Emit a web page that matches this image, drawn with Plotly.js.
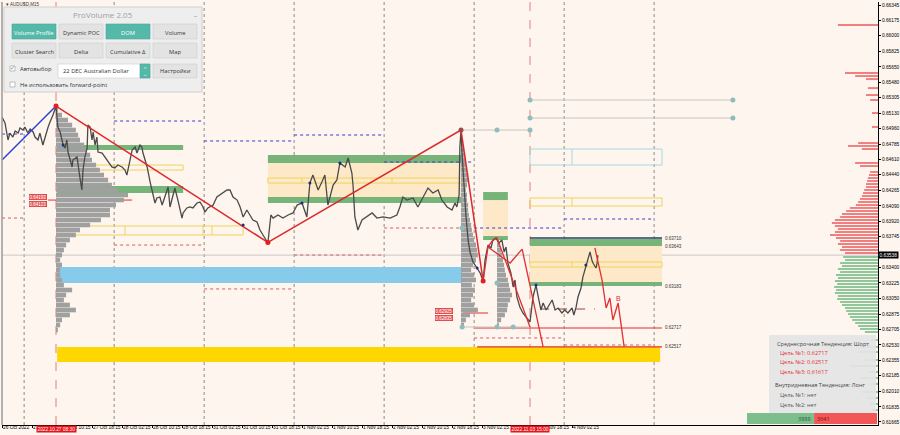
<!DOCTYPE html>
<html><head><meta charset="utf-8">
<script src="https://cdn.plot.ly/plotly-3.0.1.min.js"></script>
<style>html,body{margin:0;padding:0;background:#fdf5ee;}#chart{width:900px;height:435px;}</style>
</head><body><div id="chart"></div>
<script>
// ---------------- axes ----------------
const timeTickHours = [0,8,16,24,32,40,48,56,64,72,80,88,96,104,112,120,128,136,144,152];
const timeTickLabels = ['26 Oct 2022','27 Oct 02:15','27 Oct 10:15','27 Oct 18:15','28 Oct 02:15','28 Oct 10:15','28 Oct 18:15','31 Oct 02:15','31 Oct 10:15','31 Oct 18:15','1 Nov 02:15','1 Nov 10:15','1 Nov 18:15','2 Nov 02:15','2 Nov 10:15','2 Nov 18:15','3 Nov 02:15','3 Nov 10:15','3 Nov 18:15','4 Nov 02:15'];
const priceTickValues = [0.66345,0.66175,0.66000,0.65825,0.65650,0.65480,0.65305,0.65130,0.64960,0.64785,0.64610,0.64440,0.64265,0.64090,0.63920,0.63745,0.63400,0.63225,0.63050,0.62875,0.62705,0.62530,0.62355,0.62185,0.62010,0.61835,0.61665];
const xRange = [0, 233.6];
const yRange = [0.61631, 0.66379];
const bidPrice = 0.63538;

// ---------------- price (AUDUSD M15) ----------------
const priceHours = [0,0.8,1.6,2.1,2.9,3.5,4.3,4.8,5.6,6.1,6.9,7.5,8.3,8.8,9.6,10.1,10.9,11.5,12.3,12.8,13.6,14.4,
 14.7,14.9,15.5,16.3,16.8,17.3,17.6,18.7,18.9,20.0,20.8,21.3,21.6,22.1,22.7,22.9,23.5,24.0,24.3,24.8,25.3,25.6,26.7,27.5,28.3,29.3,30.1,30.9,32.0,32.8,33.3,33.6,34.1,34.7,35.5,36.0,36.8,37.3,37.6,38.7,39.5,40.3,40.8,41.3,42.1,42.7,43.5,44.0,44.3,44.8,45.3,46.1,46.9,48.0,48.3,49.3,50.1,50.9,52.0,52.8,53.6,54.1,54.9,56.3,57.3,58.1,58.9,60.0,60.8,61.6,62.7,63.5,64.3,65.3,66.1,66.9,68.0,68.8,69.6,70.7,70.9,
 71.7,72.3,73.6,74.9,76.3,77.6,78.7,80.0,81.3,82.1,82.9,84.3,85.3,86.1,86.9,88.3,89.3,90.1,91.5,92.3,93.3,93.6,94.1,94.9,96.0,97.3,98.7,100.0,101.6,103.5,105.3,106.1,106.9,108.0,109.6,110.9,112.3,113.6,114.9,116.3,117.3,118.7,120.0,120.8,121.3,121.9,122.1,122.4,122.7,123.2,123.7,124.3,124.8,125.6,126.7,127.5,128.3,
 128.8,129.6,130.4,130.9,131.7,132.5,133.3,133.9,134.4,134.9,135.7,136.3,136.8,137.3,138.1,138.9,140.0,140.8,141.6,142.4,143.0,143.7,144.3,145.1,145.9,146.7,147.5,148.3,149.3,150.1,150.9,152.0,152.5,153.1,153.6,154.4,154.9,155.7,156.3,156.8,157.3,157.6,158.4,158.7,158.9];
const priceClose = [0.65088,0.65021,0.64830,0.64908,0.64863,0.64931,0.64908,0.64964,0.64942,0.64976,0.64908,0.64953,0.64920,0.64863,0.64830,0.64908,0.64774,0.64875,0.64976,0.65032,0.65110,0.65211,
 0.65110,0.64976,0.64920,0.64774,0.64740,0.64830,0.64695,0.64527,0.64605,0.64639,0.64403,0.64269,0.64493,0.64639,0.64740,0.64998,0.64976,0.64830,0.64920,0.64774,0.64863,0.64695,0.64684,0.64639,0.64583,0.64527,0.64516,0.64549,0.64527,0.64493,0.64437,0.64493,0.64605,0.64718,0.64751,0.64684,0.64774,0.64751,0.64684,0.64527,0.64358,0.64213,0.64123,0.64179,0.64190,0.64100,0.64190,0.64269,0.64302,0.64078,0.64156,0.64291,0.64156,0.63954,0.64011,0.64067,0.64078,0.64067,0.64123,0.64134,0.64078,0.64022,0.64067,0.64100,0.64190,0.64213,0.64235,0.64269,0.64269,0.64190,0.64156,0.64078,0.63966,0.64044,0.63988,0.63932,0.63910,0.63820,0.63764,0.63685,0.63674,
 0.63988,0.63954,0.63988,0.63954,0.63988,0.64011,0.64100,0.64123,0.63966,0.64347,0.64437,0.64269,0.64358,0.64437,0.64100,0.64325,0.64381,0.64572,0.64527,0.64628,0.64459,0.64325,0.63966,0.63820,0.63932,0.63966,0.64011,0.63954,0.63966,0.63954,0.63988,0.64078,0.64190,0.64156,0.64179,0.64078,0.64190,0.64291,0.64235,0.64269,0.64156,0.64078,0.64044,0.64123,0.64078,0.64213,0.64751,0.64942,0.64661,0.64269,0.63988,0.63707,0.63573,0.63461,0.63393,0.63337,0.63247,
 0.63483,0.63651,0.63618,0.63707,0.63730,0.63674,0.63707,0.63573,0.63629,0.63449,0.63337,0.63180,0.63259,0.63068,0.62956,0.62888,0.62832,0.62787,0.63068,0.63202,0.63068,0.62922,0.63000,0.62922,0.62978,0.63034,0.62922,0.62944,0.62888,0.62922,0.62888,0.62944,0.62866,0.62956,0.63068,0.63169,0.63292,0.63405,0.63517,0.63573,0.63483,0.63449,0.63393,0.63449,0.63538];

// ---------------- zigzag & forecast ----------------
const zigBlueHours = [0, 14.4];
const zigBluePrice = [0.64605, 0.65211];
const zigRedHours = [14.4, 70.9, 122.4, 128.3];
const zigRedPrice = [0.65211, 0.63680, 0.64942, 0.63247];
const fcAHours = [128.3, 129.6, 130.7, 132.0, 140.8];
const fcAPrice = [0.63247, 0.63629, 0.63696, 0.63730, 0.62731];
const fcBHours = [129.6, 135.5, 138.7, 144.3];
const fcBPrice = [0.63629, 0.63449, 0.63606, 0.62507];
const fcCHours = [158.1, 160.0, 161.1, 162.1, 162.9, 164.3, 165.9];
const fcCPrice = [0.63618, 0.63259, 0.62944, 0.63056, 0.62810, 0.63000, 0.62507];
const redDotHours = [14.4, 70.9, 128.3];
const redDotPrice = [0.65211, 0.63680, 0.63247];
const swingDotHours = [16.3, 64.3, 80.0, 82.1, 90.1, 126.7, 142.4, 155.7];
const swingDotPrice = [0.64774, 0.63876, 0.64123, 0.64347, 0.64572, 0.63393, 0.63202, 0.63427];

// ---------------- zones [h0,h1,pLow,pHigh] ----------------
const greenBands = [[14.7,48.3,0.64718,0.64774],[14.7,48.3,0.64235,0.64314],[70.9,122.7,0.64572,0.64661],[70.9,122.7,0.64123,0.64190],
 [128.3,134.9,0.64156,0.64246],[128.3,134.9,0.63707,0.63752],[140.8,176.0,0.63640,0.63719],[140.8,176.0,0.63191,0.63236]];
const orangeZones = [[70.9,122.7,0.64190,0.64572],[128.3,134.9,0.63752,0.64156],[140.8,176.0,0.63236,0.63640]];
const yellowBoxes = [[14.7,48.3,0.64493,0.64549],[14.7,64.3,0.63764,0.63865],[70.9,122.7,0.64347,0.64403],[140.8,176.0,0.63404,0.63461],[140.8,176.0,0.64089,0.64179]];
const yellowSplits = [[], [32.8,53.6,56.0], [80.0,104.0], [152.0], [152.0]];
const cyanBoxes = [[140.8,176.0,0.64549,0.64729]];
const cyanSplits = [[152.0]];
const blueBand = [14.7,122.7,0.63225,0.63404];
const goldBand = [14.7,175.5,0.62338,0.62507];
const navyLevel = [140.8,176.0,0.63730];
const targetLevels = [[126.1,176.0,0.62720],[126.7,176.0,0.62507]];
const targetLabels = ['0.63710','0.63643','0.63183','0.62717','0.62517'];
const targetLabelPrice = [0.63719,0.63640,0.63191,0.62720,0.62507];

// daily high / low (dotted)
const dayStart = [0,29.9,53.9,77.9,101.9,125.9,149.9];
const dayEnd   = [5.9,53.9,77.9,101.9,125.9,149.9,173.9];
const dayHigh  = [0.64897,0.65043,0.64819,0.64886,0.64583,0.63842,0.63943];
const dayLow   = [0.63954,0.63651,0.63158,0.63539,0.63842,0.62608,0.62529];
const dayGrid  = [5.9,29.9,53.9,77.9,101.9,125.9,149.9,173.9];
const timeMarkers = [14.4, 140.8];
const timeMarkerLabels = ['2022.10.27 08:30','2022.11.03 15:00'];

// grey anchor lines with dots [h0,h1,price]
const anchorLines = [[122.4,140.8,0.64942],[140.8,194.9,0.65279],[140.8,194.9,0.65077],[122.7,140.8,0.62731]];
const anchorDotHours = [132.0,140.8,140.8,194.9,140.8,194.9,122.7,132.0,136.3,122.7,132.0];
const anchorDotPrice = [0.64942,0.64942,0.65279,0.65279,0.65077,0.65077,0.62731,0.62731,0.62731,0.63842,0.63225];

// ---------------- volume profiles ----------------
const profLeftPrice = [0.65167,0.65110,0.65054,0.64998,0.64942,0.64886,0.64830,0.64774,0.64718,0.64661,0.64605,0.64549,0.64493,0.64437,0.64381,0.64325,0.64269,0.64213,0.64156,0.64100,0.64044,0.63988,0.63932,0.63876,0.63820,0.63764,0.63707,0.63651,0.63595,0.63539,0.63483,0.63427,0.63371,0.63315,0.63259,0.63202,0.63146,0.63090,0.63034,0.62978,0.62922,0.62866,0.62810,0.62753,0.62697];
const profLeftVol = [0.5,1.6,3.2,4.3,5.3,5.9,6.4,7.5,8.0,9.1,9.6,10.7,11.7,12.8,13.9,14.9,16.5,19.2,18.1,16.0,14.4,14.4,12.0,9.1,6.4,5.3,3.7,2.7,2.1,1.6,1.1,1.6,1.1,1.1,1.6,2.1,4.3,2.7,2.1,3.7,5.3,3.7,1.6,1.1,0.5];
const profLeftStart = 14.4;
const profMidPrice = [0.64830,0.64774,0.64718,0.64661,0.64605,0.64549,0.64493,0.64437,0.64381,0.64325,0.64269,0.64213,0.64156,0.64100,0.64044,0.63988,0.63932,0.63876,0.63820,0.63764,0.63707,0.63651,0.63595,0.63539,0.63483,0.63427,0.63371,0.63315,0.63259,0.63202,0.63146,0.63090,0.63034,0.62978,0.62922,0.62866,0.62810,0.62753];
const profMidVol = [0.5,0.5,0.8,1.1,1.3,1.3,1.6,1.9,1.9,1.6,1.3,1.6,1.6,1.9,1.9,2.1,2.4,2.7,2.9,3.2,3.5,4.0,4.3,4.5,4.0,3.2,2.7,3.5,4.0,2.9,3.7,3.2,2.7,3.5,4.5,2.4,1.3,0.8];
const profMidStart = 122.4;
const profRightPrice = [0.63707,0.63651,0.63595,0.63539,0.63483,0.63427,0.63371,0.63315,0.63259,0.63202,0.63146,0.63090,0.63034,0.62978,0.62922,0.62866,0.62810,0.62753];
const profRightVol = [0.5,0.8,1.1,1.3,1.6,1.9,2.1,2.4,2.9,3.2,3.5,4.0,3.5,2.9,2.7,2.1,1.1,0.5];
const profRightStart = 132.0;
const pocLines = [[12.3,34.7,0.64156],[122.9,129.6,0.62888]];
const pocLabels = ['0.64193','0.64123','0.62925','0.62835'];
const pocLabelHours = [9.6,9.6,117.9,117.9];
const pocLabelPrice = [0.64190,0.64112,0.62911,0.62832];

// ---------------- DOM (right histogram) ----------------
const domAskPrice = [0.66120,0.65582,0.65548,0.65514,0.65413,0.65335,0.65279,0.65133,0.64976,0.64796,0.64763,0.64729,0.64572,0.64538,0.64471,0.64437,0.64403,0.64370,0.64336,0.64302,0.64269,0.64235,0.64201,0.64168,0.64134,0.64100,0.64067,0.64033,0.63999,0.63966,0.63932,0.63898,0.63865,0.63831,0.63797,0.63764,0.63730,0.63696,0.63663,0.63629,0.63595,0.63562];
const domAskVol = [10.7,8.8,6.1,3.2,2.7,3.2,2.1,1.6,1.6,5.3,8.0,4.3,6.1,4.8,2.1,2.4,2.7,2.9,3.2,3.2,3.7,4.0,4.3,4.8,5.3,5.9,7.5,8.5,9.6,10.1,11.5,12.3,11.5,10.7,11.5,12.8,11.2,10.1,10.7,9.6,10.1,8.8];
const domBidPrice = [0.63517,0.63483,0.63449,0.63416,0.63382,0.63348,0.63315,0.63281,0.63247,0.63214,0.63180,0.63146,0.63113,0.63079,0.63045,0.63012,0.62978,0.62944,0.62911,0.62877,0.62843,0.62810,0.62776,0.62742,0.62709,0.62675,0.62585,0.62507,0.62450,0.62361,0.62294,0.62226,0.62159,0.62092,0.62002,0.61934,0.61867,0.61799];
const domBidVol = [9.3,8.8,10.1,9.6,10.7,10.1,11.2,10.7,11.5,10.9,11.7,11.2,11.5,10.7,10.9,10.1,9.6,8.8,8.5,8.0,7.5,6.9,6.1,5.3,4.8,3.5,2.1,4.8,5.3,3.5,7.5,2.7,4.8,2.1,4.3,3.2,2.1,1.6];
const domEdge = 233.6;
const domTotals = [3888, 3641];

// ---------------- info panel texts ----------------
const infoLines = ['Среднесрочная Тенденция: Шорт','Цель №1: 0.62717','Цель №2: 0.62517','Цель №3: 0.61617','Внутридневная Тенденция: Лонг','Цель №1: нет','Цель №2: нет'];
const infoColors = ['#444','#e03030','#e03030','#e03030','#444','#555','#555'];

// =====================================================================
const shapes = [];
const ann = [];
const FONT = 'Liberation Sans, Arial, sans-serif';
const UIF = 'Open Sans, Noto Sans, sans-serif';
// paper helpers for UI overlays (not data)
const PX = p => (p - 2) / 876;
const PY = p => (425 - p) / 423;

function drect(z, fill, line, lw, layer) {
  shapes.push({type:'rect', xref:'x', yref:'y', x0:z[0], x1:z[1], y0:z[2], y1:z[3],
    fillcolor: fill || 'rgba(0,0,0,0)', line:{color: line || 'rgba(0,0,0,0)', width: lw || 0}, layer: layer || 'below'});
}
function dline(x0,x1,y0,y1,color,w,dash,layer, yref){
  shapes.push({type:'line', xref:'x', yref: yref||'y', x0, x1, y0, y1, line:{color, width:w, dash: dash||'solid'}, layer: layer||'below'});
}
function prect(x0,y0,x1,y1,fill,line,lw){
  shapes.push({type:'rect', xref:'paper', yref:'paper', x0:PX(x0), x1:PX(x1), y0:PY(y1), y1:PY(y0),
    fillcolor: fill, line:{color: line||'rgba(0,0,0,0)', width: lw||0}, layer:'above'});
}
function ptext(text, x, y, size, color, xanchor, extra){
  ann.push(Object.assign({text, xref:'paper', yref:'paper', x:PX(x), y:PY(y), showarrow:false,
    xanchor: xanchor||'left', yanchor:'middle', font:{family:UIF, size, color}}, extra||{}));
}

// window border on the left
shapes.push({type:'line', xref:'paper', yref:'paper', x0:0, x1:0, y0:0, y1:1, line:{color:'#9a9a9a', width:1.5}, layer:'above'});
// grid
dayGrid.forEach(h => dline(h,h,0,1,'#8a8a8a',1,'dot','below','paper'));
timeMarkers.forEach(h => dline(h,h,0,1,'#e08080',1,'dash','below','paper'));
// bid line
dline(xRange[0], xRange[1], bidPrice, bidPrice, '#c8c8c8', 1, 'solid', 'below');
// zones
drect(blueBand, '#86cbe9');
drect(goldBand, '#ffd700');
orangeZones.forEach(z => drect(z, '#fde9c8'));
greenBands.forEach(z => drect(z, '#76b47a'));
yellowBoxes.forEach((z,i) => {
  drect(z, null, '#f0d35a', 1);
  yellowSplits[i].forEach(h => dline(h,h,z[2],z[3],'#f0d35a',1));
});
cyanBoxes.forEach((z,i) => {
  drect(z, null, '#a9d8e0', 1);
  cyanSplits[i].forEach(h => dline(h,h,z[2],z[3],'#a9d8e0',1));
});
dline(navyLevel[0], navyLevel[1], navyLevel[2], navyLevel[2], '#2b3d6b', 1.5);
targetLevels.forEach(t => dline(t[0], t[1], t[2], t[2], '#e03030', 1.2));
// daily hi/lo
dayStart.forEach((s,i) => {
  dline(s, dayEnd[i], dayHigh[i], dayHigh[i], '#3a3acf', 1, 'dot');
  dline(s, dayEnd[i], dayLow[i], dayLow[i], '#d06060', 1, 'dot');
});
anchorLines.forEach(a => dline(a[0], a[1], a[2], a[2], '#c9c4c0', 1));
pocLines.forEach(a => dline(a[0], a[1], a[2], a[2], '#e03030', 1));
dline(143.5, 158.1, 0.62933, 0.62933, '#a0443a', 1, 'dash');

// traces
const traces = [];
function profile(prices, vols, start){
  traces.push({type:'bar', orientation:'h', y:prices, x:vols, base:start, width:0.00052,
    marker:{color:'#a0a0a0', line:{width:0}}, hoverinfo:'skip', showlegend:false});
}
profile(profLeftPrice, profLeftVol, profLeftStart);
profile(profMidPrice, profMidVol, profMidStart);
profile(profRightPrice, profRightVol, profRightStart);
traces.push({type:'bar', orientation:'h', y:domAskPrice, x:domAskVol, base:domAskVol.map(v => domEdge - v), width:0.00022,
  marker:{color:'#f08080', line:{width:0}}, hoverinfo:'skip', showlegend:false});
traces.push({type:'bar', orientation:'h', y:domBidPrice, x:domBidVol, base:domBidVol.map(v => domEdge - v), width:0.00022,
  marker:{color:'#8fc79a', line:{width:0}}, hoverinfo:'skip', showlegend:false});
traces.push({type:'scatter', mode:'lines', x:priceHours, y:priceClose, line:{color:'#4a4a4a', width:1.3}, hoverinfo:'skip', showlegend:false});
traces.push({type:'scatter', mode:'lines', x:zigBlueHours, y:zigBluePrice, line:{color:'#2a3fcf', width:1.5}, showlegend:false});
traces.push({type:'scatter', mode:'lines', x:zigRedHours, y:zigRedPrice, line:{color:'#dd2a2a', width:1.5}, showlegend:false});
[[fcAHours,fcAPrice],[fcBHours,fcBPrice],[fcCHours,fcCPrice]].forEach(f =>
  traces.push({type:'scatter', mode:'lines', x:f[0], y:f[1], line:{color:'#e03030', width:1.3}, showlegend:false}));
traces.push({type:'scatter', mode:'markers', x:anchorDotHours, y:anchorDotPrice, marker:{color:'#8fbdbd', size:5}, showlegend:false});
traces.push({type:'scatter', mode:'markers', x:redDotHours, y:redDotPrice, marker:{color:'#e02020', size:5}, showlegend:false});
traces.push({type:'scatter', mode:'markers', x:[122.4], y:[0.64942], marker:{color:'#a04848', size:5}, showlegend:false});
traces.push({type:'scatter', mode:'markers', x:swingDotHours, y:swingDotPrice, marker:{color:'#1c2a8a', size:3}, showlegend:false});

// data annotations
targetLabels.forEach((t,i) => ann.push({text:t, x:176.2, y:targetLabelPrice[i], xref:'x', yref:'y', showarrow:false, xanchor:'left', yanchor:'middle', font:{family:FONT, size:4.5, color:'#333'}}));
pocLabels.forEach((t,i) => ann.push({text:t, x:pocLabelHours[i], y:pocLabelPrice[i], xref:'x', yref:'y', showarrow:false, xanchor:'center', yanchor:'middle',
  bgcolor:'#e85a5a', bordercolor:'#d02020', borderwidth:0.5, borderpad:0, font:{family:FONT, size:4.5, color:'#fff'}}));
ann.push({text:'B', x:164.3, y:0.63050, xref:'x', yref:'y', showarrow:false, font:{family:FONT, size:7, color:'#e03030'}});
timeMarkers.forEach((h,i) => ann.push({text:timeMarkerLabels[i], x:h, y:-0.001, xref:'x', yref:'paper', yanchor:'top', xanchor:'center', showarrow:false,
  bgcolor:'#e8141c', borderpad:0.5, font:{family:FONT, size:4.8, color:'#fff'}}));
ann.push({text:bidPrice.toFixed(5), x:1.0, y:bidPrice, xref:'paper', yref:'y', xanchor:'left', yanchor:'middle', showarrow:false,
  bgcolor:'#000', borderpad:0.5, font:{family:FONT, size:4.8, color:'#fff'}});
ann.push({text:'▾ AUDUSD,M15', x:PX(4), y:PY(4), xref:'paper', yref:'paper', xanchor:'left', yanchor:'middle', showarrow:false, font:{family:FONT, size:4.5, color:'#333'}});

// ---------------- UI: ProVolume panel ----------------
prect(4,7,202,92,'#eeeeee','#cfcfcf',1);
ptext('ProVolume 2.05', 103, 14, 8, '#a0a0a0', 'center');
ptext('_', 195, 13, 7, '#888', 'center');
const btnLabels = ['Volume Profile','Dynamic POC','DOM','Volume','Cluster Search','Delta','Cumulative Δ','Map'];
const btnOn = [true,false,true,false,false,false,false,false];
const btnX = [12,59,106,153];
btnLabels.forEach((b,i) => {
  const x0 = btnX[i%4], y0 = i < 4 ? 24 : 43;
  prect(x0, y0, x0+44, y0+15, btnOn[i] ? '#55b9aa' : '#e3e3e3', btnOn[i] ? '#4aa596' : '#cccccc', 0.6);
  ptext(b, x0+22, y0+8.5, 5.8, btnOn[i] ? '#ffffff' : '#333333', 'center');
});
prect(10,66,15,71,'#ffffff','#9a9a9a',0.6);
ptext('✓', 12.5, 68, 6, '#3aa090', 'center');
ptext('Автовыбор', 18, 69, 5.8, '#333');
prect(58,64,150,78,'#ffffff','#cfcfcf',0.6);
prect(140,64,150,78,'#55b9aa','#4aa596',0.6);
ptext('⌃', 145, 69, 4.5, '#fff', 'center');
ptext('⌄', 145, 74, 4.5, '#fff', 'center');
ptext('22 DEC Australian Dollar', 61, 71, 5.8, '#333');
prect(153,64,197,78,'#e3e3e3','#cccccc',0.6);
ptext('Настройки', 175, 71, 5.8, '#333', 'center');
prect(10,82,15,87,'#ffffff','#9a9a9a',0.6);
ptext('Не использовать forward-point', 18, 84.5, 5.8, '#333');

// ---------------- UI: info box ----------------
prect(769,335,876,418,'rgba(228,228,228,0.9)','rgba(0,0,0,0)',0);
const infoY = [344,353,362,372,385,395,405];
const infoX = [775,778,778,778,773,778,778];
infoLines.forEach((t,i) => ptext(t, infoX[i], infoY[i], 5.6, infoColors[i]));

// ---------------- bottom totals bar ----------------
const totalW = 130, totalX0 = 747;
const gW = totalW * domTotals[0] / (domTotals[0] + domTotals[1]);
prect(totalX0, 413, totalX0 + gW, 424, '#7cbf8c', null, 0);
prect(totalX0 + gW, 413, totalX0 + totalW, 424, '#f25656', null, 0);
ptext(String(domTotals[0]), totalX0 + gW - 1, 418.5, 5.5, '#2f5a3a', 'right');
ptext(String(domTotals[1]), totalX0 + gW + 1, 418.5, 5.5, '#7a1010', 'left');

const layout = {
  width:900, height:435,
  margin:{l:2, r:22, t:2, b:10, pad:0},
  paper_bgcolor:'#fdf5ee', plot_bgcolor:'#fdf5ee',
  showlegend:false, barmode:'overlay', hovermode:false,
  xaxis:{range:xRange, tickvals:timeTickHours, ticktext:timeTickLabels, showgrid:false, zeroline:false,
    showline:true, linecolor:'#000', linewidth:1, ticks:'outside', ticklen:2, tickcolor:'#000', tickangle:0,
    ticklabelposition:'outside right', ticklabelstandoff:-3, tickfont:{family:FONT, size:4.8, color:'#000'}, fixedrange:true},
  yaxis:{range:yRange, side:'right', tickvals:priceTickValues, ticktext:priceTickValues.map(v => v.toFixed(5)),
    showgrid:false, zeroline:false, showline:true, linecolor:'#000', linewidth:1, ticks:'outside', ticklen:2, tickcolor:'#000',
    tickfont:{family:FONT, size:4.8, color:'#000'}, fixedrange:true},
  shapes, annotations: ann
};
Plotly.newPlot('chart', traces, layout, {staticPlot:true, displayModeBar:false});
</script>
</body></html>
